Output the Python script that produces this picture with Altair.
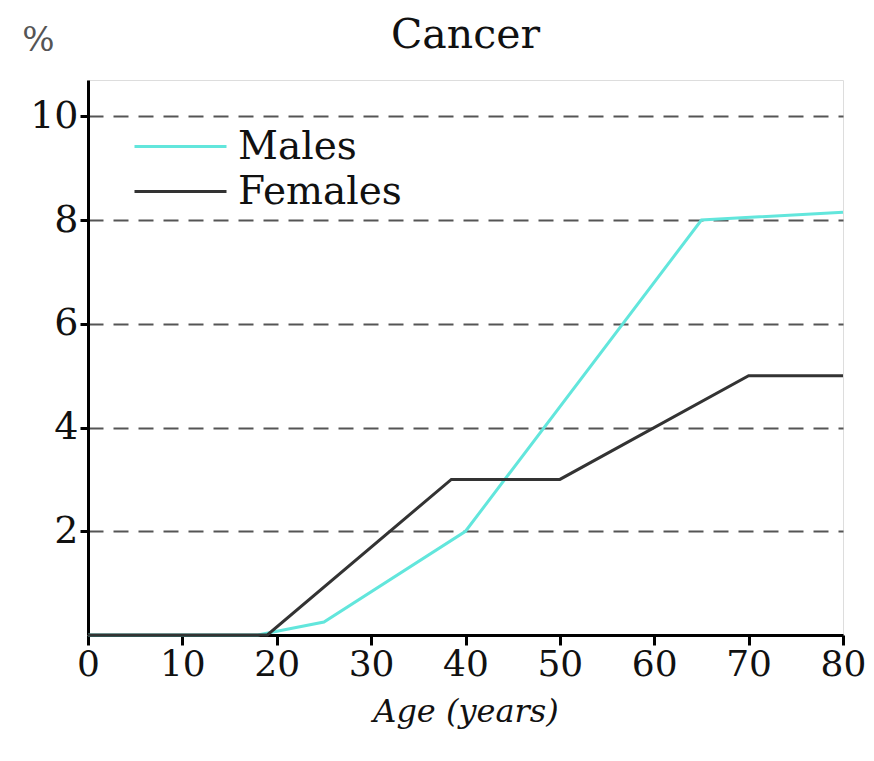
import altair as alt
import pandas as pd

male_age = [0, 18, 25, 40, 65, 80]
male_pct = [0, 0, 0.25, 2, 8, 8.15]
female_age = [0, 19, 38.5, 50, 70, 80]
female_pct = [0, 0, 3, 3, 5, 5]
series = ["Males", "Females"]
colors = ["#62e6dc", "#333333"]
x_ticks = list(range(0, 90, 10))
y_ticks = [2, 4, 6, 8, 10]
chart_title = "Cancer"

rows = []
for i, (a, p) in enumerate(zip(male_age, male_pct)):
    rows.append({"age": a, "pct": p, "sex": "Males", "ord": i})
for i, (a, p) in enumerate(zip(female_age, female_pct)):
    rows.append({"age": a, "pct": p, "sex": "Females", "ord": i})
df = pd.DataFrame(rows)

FONT = "DejaVu Serif"
W, H = 755, 555

lines = alt.Chart(df).mark_line(strokeWidth=3, clip=False).encode(
    x=alt.X("age:Q",
            scale=alt.Scale(domain=[0, 80], nice=False, zero=True),
            axis=alt.Axis(values=x_ticks, grid=False, title="Age (years)",
                          tickSize=10, tickWidth=3, tickColor="black",
                          domainColor="black", domainWidth=3,
                          labelFont=FONT, labelFontSize=36, labelColor="#111",
                          labelPadding=2, labelFlush=False,
                          titleFont=FONT, titleFontSize=32, titleFontStyle="italic",
                          titleFontWeight="normal", titleColor="#111", titlePadding=14)),
    y=alt.Y("pct:Q",
            scale=alt.Scale(domain=[0, 10.7], nice=False),
            axis=alt.Axis(values=y_ticks, grid=True, gridDash=[15, 10],
                          gridColor="#555", gridWidth=2,
                          tickSize=8, tickWidth=3, tickColor="black",
                          domainColor="black", domainWidth=3,
                          labelFont=FONT, labelFontSize=38, labelColor="#111",
                          labelPadding=2,
                          title="%", titleAngle=0, titleX=-50, titleY=-40,
                          titleAlign="center", titleBaseline="middle",
                          titleFont=FONT, titleFontSize=34, titleFontWeight="normal",
                          titleColor="#555")),
    color=alt.Color("sex:N",
                    scale=alt.Scale(domain=series, range=colors),
                    legend=alt.Legend(title=None, orient="none", legendX=68, legendY=42,
                                      symbolType="M-2,0H2", symbolSize=2116,
                                      symbolStrokeWidth=3, symbolFillColor="transparent",
                                      labelFont=FONT, labelLimit=400,
                                      labelFontSize=39, labelColor="#111",
                                      labelOffset=33, rowPadding=0, padding=0)),
    order="ord:Q",
)

title_text = alt.Chart(pd.DataFrame({"t": [chart_title]})).mark_text(
    font=FONT, fontSize=41, color="#111", align="center", baseline="middle"
).encode(
    text="t:N",
    x=alt.value(W / 2),
    y=alt.value(-44),
)

chart = alt.layer(lines, title_text).properties(
    width=W,
    height=H,
    autosize=alt.AutoSizeParams(type="none"),
    padding={"left": 80, "top": 72, "right": 23, "bottom": 110},
).configure_view(stroke=None).configure(background="white")

chart.save("out.html", embed_options={"renderer": "svg", "actions": False})
